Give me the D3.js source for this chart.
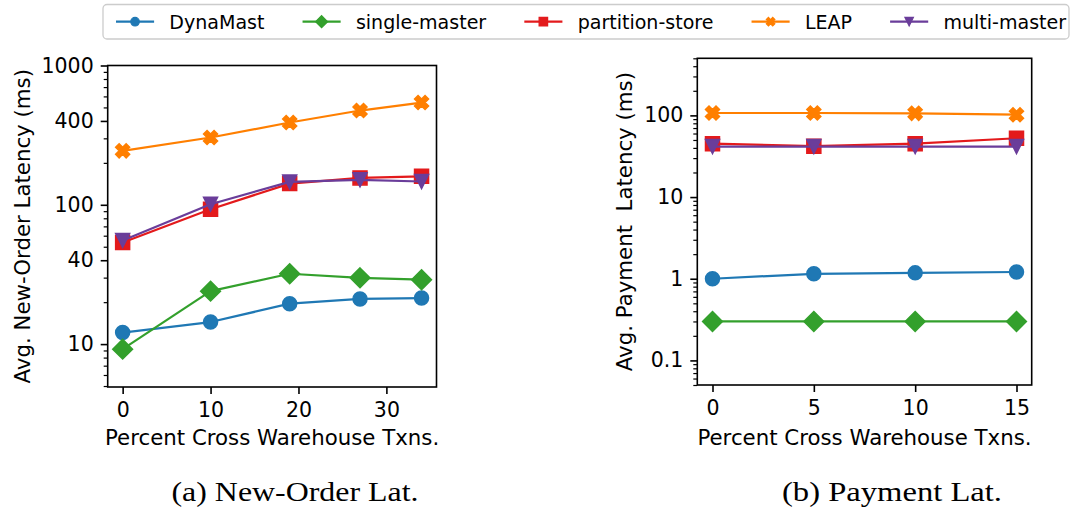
<!DOCTYPE html>
<html>
<head>
<meta charset="utf-8">
<script src="https://cdn.jsdelivr.net/npm/d3@7"></script>
<style>
  body { margin: 0; background: #fff; }
  svg { display: block; }
  text { font-family: "DejaVu Sans", sans-serif; fill: #000; }
</style>
</head>
<body>
<svg id="chart" width="1070" height="508"></svg>
<script>
// ---- series definitions ----
const seriesNames   = ["DynaMast", "single-master", "partition-store", "LEAP", "multi-master"];
const seriesColors  = ["#1f78b4", "#33a02c", "#e31a1c", "#ff7f00", "#6a3d9a"];
const seriesMarkers = ["circle", "diamond", "square", "xfilled", "triangleDown"];

// ---- (a) New-Order latency (ms) ----
const newOrderX              = [0, 10, 19, 27, 34];
const newOrderDynaMast       = [12.1, 14.4, 19.5, 21.1, 21.4];
const newOrderSingleMaster   = [9.2, 24, 32, 29.9, 29];
const newOrderPartitionStore = [53.6, 93, 142, 156, 160];
const newOrderLEAP           = [244, 304, 390, 475, 542];
const newOrderMultiMaster    = [55.5, 101, 146, 151, 147];
const newOrderTicksX = [0, 10, 20, 30];
const newOrderTicksY = [10, 40, 100, 400, 1000];

// ---- (b) Payment latency (ms) ----
const paymentX              = [0, 5, 10, 15];
const paymentDynaMast       = [1.0, 1.15, 1.18, 1.21];
const paymentSingleMaster   = [0.30, 0.30, 0.30, 0.30];
const paymentPartitionStore = [45, 42, 45, 52.5];
const paymentLEAP           = [107, 107, 106, 102];
const paymentMultiMaster    = [41.5, 41.5, 41.5, 41.5];
const paymentTicksX = [0, 5, 10, 15];
const paymentTicksY = [0.1, 1, 10, 100];

const svg = d3.select("#chart");

const TICK_FS = 20.5, LABEL_FS = 21.3, LEGEND_FS = 19.05;

// matplotlib-style marker outlines, s = marker size in px
function markerPath(type, s) {
  const h = s / 2;
  switch (type) {
    case "circle":
      return d3.symbol(d3.symbolCircle, Math.PI * h * h)();
    case "square":
      return `M${-h},${-h}H${h}V${h}H${-h}Z`;
    case "diamond": {
      const d = s * Math.SQRT1_2;
      return `M0,${-d}L${d},0L0,${d}L${-d},0Z`;
    }
    case "triangleDown":
      return `M${-h},${-h}L${h},${-h}L0,${h}Z`;
    case "xfilled": {
      const k = s / 4;
      const pts = [[-1,-2],[0,-1],[1,-2],[2,-1],[1,0],[2,1],[1,2],[0,1],[-1,2],[-2,1],[-1,0],[-2,-1]];
      return "M" + pts.map(p => `${p[0]*k},${p[1]*k}`).join("L") + "Z";
    }
  }
}

function drawPanel(cfg) {
  const { left, right, top, bottom, xDomain, yDomain, xs, ys, ticksX, ticksY, ylabel } = cfg;
  const x = d3.scaleLinear().domain(xDomain).range([left, right]);
  const y = d3.scaleLog().domain(yDomain).range([bottom, top]);
  const g = svg.append("g");

  // minor y ticks (every integer multiple inside each decade)
  const minor = y.ticks().filter(v => !ticksY.some(t => Math.abs(t - v) / t < 1e-6));
  const minorAxis = g.append("g").attr("transform", `translate(${left},0)`)
    .call(d3.axisLeft(y).tickValues(minor).tickSize(4).tickFormat(""));
  minorAxis.select(".domain").remove();
  minorAxis.selectAll("line").attr("stroke", "#000").attr("stroke-width", 1.2);

  // major y ticks with labels
  const yAxis = g.append("g").attr("transform", `translate(${left},0)`)
    .call(d3.axisLeft(y).tickValues(ticksY).tickSize(7).tickPadding(7).tickFormat(d => String(d)));
  yAxis.select(".domain").remove();
  yAxis.selectAll("line").attr("stroke", "#000").attr("stroke-width", 1.6);
  yAxis.selectAll("text").attr("font-size", TICK_FS).attr("font-family", "DejaVu Sans").attr("fill", "#000");

  // x ticks
  const xAxis = g.append("g").attr("transform", `translate(0,${bottom})`)
    .call(d3.axisBottom(x).tickValues(ticksX).tickSize(7).tickPadding(8.5).tickFormat(d => String(d)));
  xAxis.select(".domain").remove();
  xAxis.selectAll("line").attr("stroke", "#000").attr("stroke-width", 1.6);
  xAxis.selectAll("text").attr("font-size", TICK_FS).attr("font-family", "DejaVu Sans").attr("fill", "#000");

  // series: line then markers, in legend order
  const line = d3.line().x((d, i) => x(xs[i])).y(d => y(d));
  ys.forEach((vals, si) => {
    const sg = g.append("g");
    sg.append("path").attr("d", line(vals)).attr("fill", "none")
      .attr("stroke", seriesColors[si]).attr("stroke-width", 2.2).attr("stroke-linejoin", "round");
    sg.selectAll("path.mk").data(vals).enter().append("path").attr("class", "mk")
      .attr("d", markerPath(seriesMarkers[si], 14))
      .attr("transform", (d, i) => `translate(${x(xs[i])},${y(d)})`)
      .attr("fill", seriesColors[si]).attr("stroke", seriesColors[si]).attr("stroke-width", 1.5)
      .attr("stroke-linejoin", "miter");
  });

  // frame
  g.append("rect").attr("x", left).attr("y", top).attr("width", right - left).attr("height", bottom - top)
    .attr("fill", "none").attr("stroke", "#000").attr("stroke-width", 1.6);

  // axis labels
  g.append("text").attr("x", (left + right) / 2).attr("y", 445).attr("text-anchor", "middle")
    .attr("font-size", LABEL_FS).text("Percent Cross Warehouse Txns.");
  g.append("text").attr("transform", `translate(${cfg.ylabelX},${(top + bottom) / 2}) rotate(-90)`)
    .attr("text-anchor", "middle").attr("dominant-baseline", "central")
    .attr("font-size", LABEL_FS).style("white-space", "pre").text(ylabel);

  // caption
  svg.append("text").attr("x", cfg.capX).attr("y", 501).attr("text-anchor", "middle")
    .style("font-family", "'Liberation Serif', serif")
    .attr("font-size", 28).attr("textLength", cfg.capW).attr("lengthAdjust", "spacingAndGlyphs")
    .text(cfg.caption);
}

drawPanel({
  left: 107.7, right: 436.5, top: 65.5, bottom: 387,
  xDomain: [-1.7, 35.7], yDomain: [4.92, 1000],
  xs: newOrderX,
  ys: [newOrderDynaMast, newOrderSingleMaster, newOrderPartitionStore, newOrderLEAP, newOrderMultiMaster],
  ticksX: newOrderTicksX, ticksY: newOrderTicksY,
  ylabel: "Avg. New-Order Latency (ms)", ylabelX: 22,
  caption: "(a) New-Order Lat.", capX: 295, capW: 247
});

drawPanel({
  left: 697.3, right: 1031.7, top: 58.3, bottom: 385,
  xDomain: [-0.75, 15.75], yDomain: [0.05, 500],
  xs: paymentX,
  ys: [paymentDynaMast, paymentSingleMaster, paymentPartitionStore, paymentLEAP, paymentMultiMaster],
  ticksX: paymentTicksX, ticksY: paymentTicksY,
  ylabel: "Avg. Payment  Latency (ms)", ylabelX: 624,
  caption: "(b) Payment Lat.", capX: 892, capW: 220
});

// ---- legend (single row, five columns; spacing in em of the legend font) ----
const leg = svg.append("g");
const legBox = leg.append("rect").attr("x", 103).attr("y", 4.5).attr("height", 34.5).attr("rx", 4)
  .attr("fill", "#fff").attr("fill-opacity", 0.8).attr("stroke", "#cccccc").attr("stroke-width", 1.3);
const legY = 21.7;
const handleLen = 2 * LEGEND_FS, handlePad = 0.8 * LEGEND_FS, colSpace = 2 * LEGEND_FS;
let cx = 116;
seriesNames.forEach((name, i) => {
  leg.append("line").attr("x1", cx).attr("x2", cx + handleLen).attr("y1", legY).attr("y2", legY)
    .attr("stroke", seriesColors[i]).attr("stroke-width", 2.2);
  leg.append("path").attr("d", markerPath(seriesMarkers[i], 8.5))
    .attr("transform", `translate(${cx + handleLen / 2},${legY})`)
    .attr("fill", seriesColors[i]).attr("stroke", seriesColors[i]).attr("stroke-width", 1.2);
  const t = leg.append("text").attr("x", cx + handleLen + handlePad).attr("y", legY)
    .attr("dy", "0.36em").attr("font-size", LEGEND_FS).text(name);
  cx += handleLen + handlePad + t.node().getComputedTextLength() + colSpace;
});
legBox.attr("width", 966);
</script>
</body>
</html>
